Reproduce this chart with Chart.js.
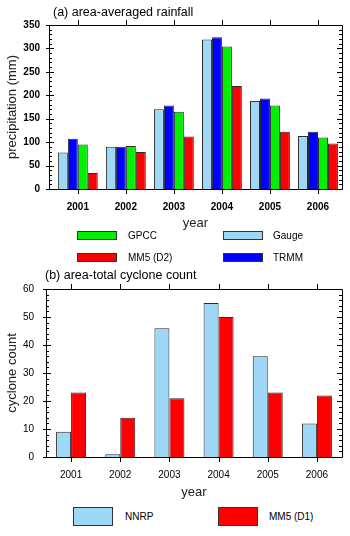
<!DOCTYPE html>
<html>
<head>
<meta charset="utf-8">
<script src="https://cdn.jsdelivr.net/npm/chart.js@4/dist/chart.umd.min.js"></script>
<style>
    body { margin: 0; background: #fff; width: 350px; height: 536px; position: relative; overflow: hidden; font-family: "Liberation Sans", Arial, sans-serif; color: #000; }
    canvas { position: absolute; left: 0; }
    #rainfall { top: 0; }
    #cyclones { top: 268px; }
    .title { position: absolute; font-size: 12.5px; white-space: nowrap; line-height: 14px; }
    .keybox { position: absolute; box-sizing: border-box; border: 1px solid #333; }
    .keytext { position: absolute; font-size: 10px; line-height: 12px; white-space: nowrap; }
</style>
</head>
<body>
<canvas id="rainfall" width="350" height="231"></canvas>
<canvas id="cyclones" width="350" height="232"></canvas>
<div class="title" style="left:53px; top:5px;">(a) area-averaged rainfall</div>
<div class="title" style="left:45px; top:268px;">(b) area-total cyclone count</div>
<div id="keys"></div>
<script>
var years = [2001, 2002, 2003, 2004, 2005, 2006];

// (a) area-averaged rainfall (mm)
var gauge = [78, 90, 170, 319, 188, 113];
var trmm = [107, 90, 178, 324, 193, 122];
var gpcc = [95, 92, 165, 304, 178, 110];
var mm5D2 = [34, 79, 112, 220, 122, 97];

// (b) area-total cyclone count
var nnrp = [9, 1, 46, 55, 36, 12];
var mm5D1 = [23, 14, 21, 50, 23, 22];

var colLight = '#9fd7f7';
var colBlue = '#0000ff';
var colGreen = '#00f000';
var colRed = '#ff0000';

// draws the box round the plot and the NCL style tick marks
var frameTicks = {
    id: 'frameTicks',
    afterDraw: function (chart, args, opts) {
        var ctx = chart.ctx;
        var a = chart.chartArea;
        var x = chart.scales.x;
        var y = chart.scales.y;
        ctx.save();
        ctx.strokeStyle = '#000';
        ctx.lineWidth = 1;
        ctx.beginPath();
        ctx.rect(Math.round(a.left) + 0.5, Math.round(a.top) + 0.5, Math.round(a.right - a.left), Math.round(a.bottom - a.top));
        for (let i = 0; i < years.length; i++) {
            let px = Math.round(x.getPixelForValue(years[i])) + 0.5;
            ctx.moveTo(px, a.top);
            ctx.lineTo(px, a.top - 5);
            ctx.moveTo(px, a.bottom);
            ctx.lineTo(px, a.bottom + 5);
        }
        for (let v = y.min; v <= y.max; v += opts.minor) {
            let major = v % opts.major === 0;
            let len = major ? 5 : 3;
            let py = Math.round(y.getPixelForValue(v)) + 0.5;
            ctx.moveTo(a.left - (major ? 3 : 0), py);
            ctx.lineTo(a.left + len, py);
            ctx.moveTo(a.right, py);
            ctx.lineTo(a.right - len, py);
        }
        ctx.stroke();
        ctx.restore();
    }
};

var Charts = {
    family: '"Liberation Sans", Arial, sans-serif',

    init: function () {
        Chart.defaults.color = '#000';
        Chart.defaults.font.family = Charts.family;
        Charts.rainfallChart();
        Charts.cycloneChart();
        Charts.keys();
    },
    bar: function (label, data, color) {
        return {
            label: label,
            data: data,
            backgroundColor: color,
            borderColor: '#2a2a2a',
            borderWidth: 1,
            barPercentage: 1
        };
    },
    options: function (o) {
        let tickFont = { family: Charts.family, size: 10, weight: o.weight };
        return {
            responsive: false,
            animation: false,
            devicePixelRatio: 1,
            layout: { padding: { top: o.top, right: 8, bottom: 0, left: 0 } },
            plugins: {
                legend: { display: false },
                tooltip: { enabled: false },
                frameTicks: { major: o.step, minor: o.minor }
            },
            scales: {
                x: {
                    type: 'linear',
                    offset: false,
                    min: o.xmin,
                    max: o.xmax,
                    grid: { display: false, drawTicks: false },
                    border: { display: false },
                    afterBuildTicks: function (scale) {
                        scale.ticks = years.map(function (v) { return { value: v }; });
                    },
                    afterFit: function (scale) { scale.height = o.xh; },
                    ticks: {
                        padding: o.xpad,
                        font: tickFont,
                        maxRotation: 0,
                        callback: function (v) { return String(v); }
                    },
                    title: { display: true, text: 'year', color: '#222', font: { size: 13 }, padding: 0 }
                },
                y: {
                    min: 0,
                    max: o.ymax,
                    grid: { display: false, drawTicks: false },
                    border: { display: false },
                    afterFit: function (scale) { scale.width = o.yw; },
                    ticks: { stepSize: o.step, padding: o.ypad, font: tickFont },
                    title: { display: true, text: o.ytitle, color: '#222', font: { size: 13 }, padding: { top: 5, bottom: 0 } }
                }
            }
        };
    },
    rainfallChart: function () {
        new Chart(document.getElementById('rainfall'), {
            type: 'bar',
            data: {
                labels: years,
                datasets: [
                    Charts.bar('Gauge', gauge, colLight),
                    Charts.bar('TRMM', trmm, colBlue),
                    Charts.bar('GPCC', gpcc, colGreen),
                    Charts.bar('MM5 (D2)', mm5D2, colRed)
                ].map(function (d) { d.categoryPercentage = 0.83; return d; })
            },
            options: Charts.options({
                top: 25, yw: 49, xh: 42, xmin: 2000.4, xmax: 2006.5,
                ymax: 350, step: 50, minor: 10, xpad: 12, ypad: 9, weight: 'bold',
                ytitle: 'precipitation (mm)'
            }),
            plugins: [frameTicks]
        });
    },
    cycloneChart: function () {
        new Chart(document.getElementById('cyclones'), {
            type: 'bar',
            data: {
                labels: years,
                datasets: [
                    Charts.bar('NNRP', nnrp, colLight),
                    Charts.bar('MM5 (D1)', mm5D1, colRed)
                ].map(function (d) { d.categoryPercentage = 0.61; return d; })
            },
            options: Charts.options({
                top: 21, yw: 46, xh: 43, xmin: 2000.49, xmax: 2006.51,
                ymax: 60, step: 10, minor: 2, xpad: 12, ypad: 12, weight: 'normal',
                ytitle: 'cyclone count'
            }),
            plugins: [frameTicks]
        });
    },
    keys: function () {
        // legend slots: [label, colour, box left, box top, box height, text left]
        let slots = [
            ['GPCC', colGreen, 77, 231, 9, 128],
            ['Gauge', colLight, 223, 231, 9, 273],
            ['MM5 (D2)', colRed, 77, 253, 9, 128],
            ['TRMM', colBlue, 223, 253, 9, 273],
            ['NNRP', colLight, 73, 507, 19, 125],
            ['MM5 (D1)', colRed, 218, 507, 19, 269]
        ];
        let html = '';
        for (let i = 0; i < slots.length; i++) {
            let s = slots[i];
            html += '<div class="keybox" style="left:' + s[2] + 'px;top:' + s[3] + 'px;width:40px;height:' + s[4] + 'px;background:' + s[1] + '"></div>';
            html += '<div class="keytext" style="left:' + s[5] + 'px;top:' + (s[3] + s[4] / 2 - 6) + 'px">' + s[0] + '</div>';
        }
        document.getElementById('keys').innerHTML = html;
    }
};

Charts.init();
</script>
</body>
</html>
